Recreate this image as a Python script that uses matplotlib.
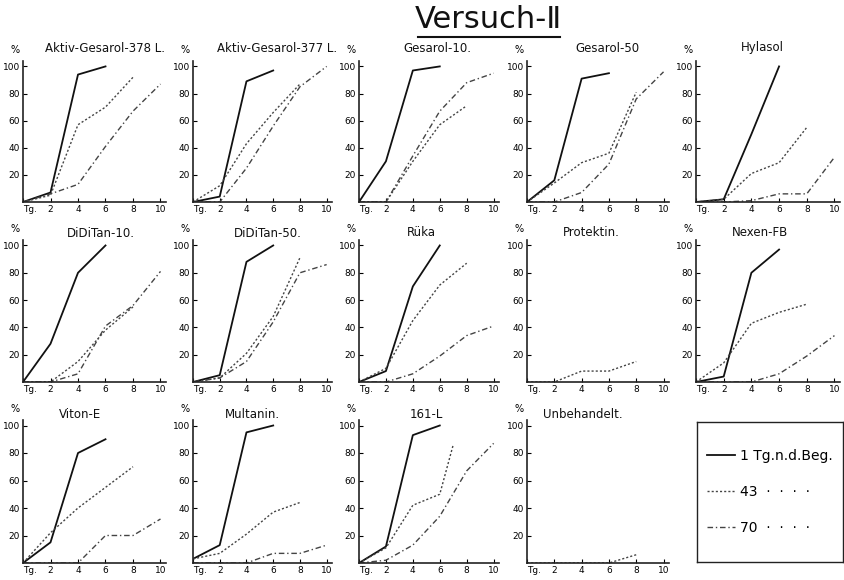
import matplotlib
matplotlib.use("Agg")
import matplotlib.pyplot as plt
from matplotlib.lines import Line2D

# ---------------- data ----------------
panel_titles = [
    "Aktiv-Gesarol-378 L.", "Aktiv-Gesarol-377 L.", "Gesarol-10.", "Gesarol-50", "Hylasol",
    "DiDiTan-10.", "DiDiTan-50.", "Rüka", "Protektin.", "Nexen-FB",
    "Viton-E", "Multanin.", "161-L", "Unbehandelt.",
]

x_tick_values = [0, 2, 4, 6, 8, 10]
x_tick_labels = ["Tg.", "2", "4", "6", "8", "10"]
y_tick_values = [20, 40, 60, 80, 100]
y_tick_labels = ["20", "40", "60", "80", "100"]

days_1 = [0, 2, 4, 6]
days_43 = [0, 2, 4, 6, 8]
days_70 = [0, 2, 4, 6, 8, 10]
days_43_161L = [0, 2, 4, 6, 7]

# series "1 Tg. n. d. Beg."
kill_1 = {
    "Aktiv-Gesarol-378 L.": [0, 7, 94, 100],
    "Aktiv-Gesarol-377 L.": [0, 4, 89, 97],
    "Gesarol-10.": [0, 30, 97, 100],
    "Gesarol-50": [0, 16, 91, 95],
    "Hylasol": [0, 2, 50, 100],
    "DiDiTan-10.": [0, 28, 80, 100],
    "DiDiTan-50.": [0, 5, 88, 100],
    "Rüka": [0, 8, 70, 100],
    "Nexen-FB": [0, 4, 80, 97],
    "Viton-E": [0, 15, 80, 90],
    "Multanin.": [3, 13, 95, 100],
    "161-L": [0, 12, 93, 100],
}

# series "43 Tg. n. d. Beg."
kill_43 = {
    "Aktiv-Gesarol-378 L.": [0, 5, 57, 70, 92],
    "Aktiv-Gesarol-377 L.": [0, 12, 43, 66, 87],
    "Gesarol-10.": [0, 0, 30, 57, 71],
    "Gesarol-50": [0, 14, 29, 36, 81],
    "Hylasol": [0, 2, 21, 29, 55],
    "DiDiTan-10.": [0, 0, 15, 38, 55],
    "DiDiTan-50.": [0, 3, 21, 48, 91],
    "Rüka": [0, 10, 45, 71, 87],
    "Protektin.": [0, 0, 8, 8, 15],
    "Nexen-FB": [0, 14, 43, 51, 57],
    "Viton-E": [0, 22, 40, 55, 70],
    "Multanin.": [3, 7, 21, 37, 44],
    "161-L": [0, 11, 42, 50, 86],
    "Unbehandelt.": [0, 0, 0, 0, 6],
}

# series "70 Tg. n. d. Beg."
kill_70 = {
    "Aktiv-Gesarol-378 L.": [0, 6, 13, 41, 67, 87],
    "Aktiv-Gesarol-377 L.": [0, 0, 25, 56, 85, 100],
    "Gesarol-10.": [0, 0, 34, 67, 88, 95],
    "Gesarol-50": [0, 0, 7, 28, 76, 96],
    "Hylasol": [0, 0, 1, 6, 6, 33],
    "DiDiTan-10.": [0, 0, 6, 41, 56, 81],
    "DiDiTan-50.": [0, 3, 15, 44, 80, 86],
    "Rüka": [0, 0, 6, 19, 34, 41],
    "Nexen-FB": [0, 0, 0, 6, 19, 34],
    "Viton-E": [0, 0, 0, 20, 20, 32],
    "Multanin.": [0, 0, 0, 7, 7, 13],
    "161-L": [0, 2, 13, 34, 67, 87],
}

legend_labels = ["1 Tg.n.d.Beg.", "43  ·  ·  ·  ·", "70  ·  ·  ·  ·"]

# ---------------- layout / style ----------------
W, H = 844, 580
col_left = [23, 193, 359, 527, 696]
col_right = [166, 332, 499, 669, 840]
row_top = [61, 240, 420]
row_bottom = [202, 382, 563]
title_cx = [105, 277, 437, 607, 762, 101, 268, 421, 591, 760, 80, 252, 426, 583]
title_cy = [49, 49, 48, 48, 48, 233, 233, 232, 232, 232, 414, 414, 414, 414]

style_1 = dict(color="#111111", lw=1.3, ls="-")
style_43 = dict(color="#444444", lw=1.0, ls=(0, (1.5, 1.5)))
style_70 = dict(color="#444444", lw=1.0, ls=(0, (4, 2, 1, 2)))

plt.rcParams["font.family"] = ["DejaVu Sans"]
fig = plt.figure(figsize=(W / 100, H / 100), dpi=100)
fig.patch.set_facecolor("white")

for i, title in enumerate(panel_titles):
    r, c = divmod(i, 5)
    l, rr = col_left[c], col_right[c]
    t, b = row_top[r], row_bottom[r]
    ax = fig.add_axes([l / W, 1 - b / H, (rr - l) / W, (b - t) / H])
    ax.set_xlim(0, 10.4)
    ax.set_ylim(0, 104)
    for s in ("top", "right"):
        ax.spines[s].set_visible(False)
    for s in ("left", "bottom"):
        ax.spines[s].set_linewidth(1.2)
        ax.spines[s].set_color("#222222")
    ax.set_xticks(x_tick_values)
    ax.set_xticklabels(x_tick_labels)
    ax.set_yticks(y_tick_values)
    ax.set_yticklabels(y_tick_labels)
    ax.tick_params(direction="in", length=3, width=0.8, labelsize=6.5, pad=2)
    ax.get_xticklabels()[0].set_horizontalalignment("left")

    if title in kill_1:
        ax.plot(days_1, kill_1[title], **style_1)
    if title in kill_43:
        xs = days_43_161L if title == "161-L" else days_43
        ax.plot(xs, kill_43[title], **style_43)
    if title in kill_70:
        ax.plot(days_70, kill_70[title], **style_70)

    ax.annotate("%", xy=(0, 1), xycoords="axes fraction", xytext=(-8, 6),
                textcoords="offset pixels", ha="center", va="bottom", fontsize=7)
    fig.text(title_cx[i] / W, 1 - title_cy[i] / H, title, ha="center", va="center",
             fontsize=8.5, color="#111111")

# legend box
lax = fig.add_axes([697 / W, 1 - 562 / H, 146 / W, 140 / H])
lax.set_xticks([])
lax.set_yticks([])
for s in lax.spines.values():
    s.set_linewidth(1.0)
    s.set_color("#222222")
handles = [Line2D([], [], **style_1), Line2D([], [], **style_43), Line2D([], [], **style_70)]
lax.legend(handles, legend_labels, loc="center", frameon=False, fontsize=10,
           labelspacing=1.6, handlelength=2.0, handletextpad=0.4)

# main title
fig.text(488 / W, 1 - 20 / H, "Versuch-Ⅱ", ha="center", va="center", fontsize=22,
         color="#111111")
fig.add_artist(Line2D([418 / W, 560 / W], [1 - 37 / H, 1 - 37 / H], color="#111111", lw=1.5))

fig.savefig("out.png", dpi=100, facecolor="white")
